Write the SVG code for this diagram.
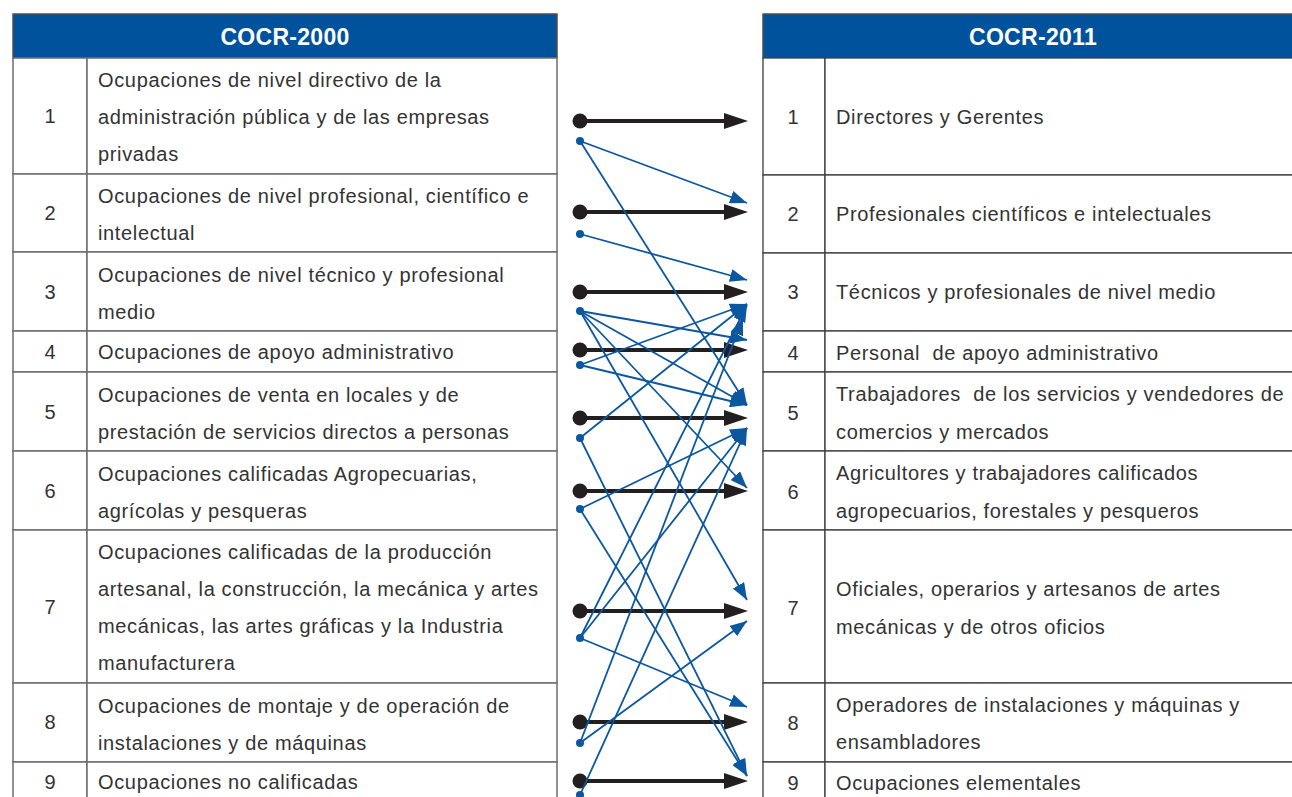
<svg xmlns="http://www.w3.org/2000/svg" width="1292" height="797" viewBox="0 0 1292 797">
<style>
.hdr{fill:#00529c;stroke:#4d4d4f;stroke-width:1.5}
.ht{font-family:"Liberation Sans",Arial,sans-serif;font-weight:bold;font-size:23px;fill:#fff;text-anchor:middle;letter-spacing:0.3px}
.cell{fill:#fff;stroke:#6d6e71;stroke-width:1.5}
.rcell{fill:#fff;stroke:#3d3d3f;stroke-width:1.3}
.t{font-family:"Liberation Sans",Arial,sans-serif;font-size:20px;fill:#333;letter-spacing:0.65px}
.n{font-family:"Liberation Sans",Arial,sans-serif;font-size:20px;fill:#333;text-anchor:middle}
.bk{stroke:#231f20;stroke-width:4;fill:none}
.bkh{fill:#231f20}
.bl{stroke:#0b57a0;stroke-width:1.8;fill:none;marker-end:url(#ah)}
.bd{fill:#0b57a0}
</style>
<defs>
<marker id="ah" markerUnits="userSpaceOnUse" markerWidth="17" markerHeight="13" refX="17" refY="6.5" orient="auto" viewBox="0 0 17 13">
<path d="M0,0 L17,6.5 L0,13 z" fill="#0b57a0"/>
</marker>
</defs>

<g id="left-table">
<g id="left-header"><rect class="hdr" x="13" y="14" width="544" height="44"/><text class="ht" x="285" y="45">COCR-2000</text></g>
<g id="l1"><rect class="cell" x="13" y="58" width="74" height="116"/><rect class="cell" x="87" y="58" width="470" height="116"/><text class="n" x="50" y="123">1</text><text class="t" x="98" y="87">Ocupaciones de nivel directivo de la</text><text class="t" x="98" y="124">administración pública y de las empresas</text><text class="t" x="98" y="161">privadas</text></g>
<g id="l2"><rect class="cell" x="13" y="174" width="74" height="78"/><rect class="cell" x="87" y="174" width="470" height="78"/><text class="n" x="50" y="220">2</text><text class="t" x="98" y="203">Ocupaciones de nivel profesional, científico e</text><text class="t" x="98" y="240">intelectual</text></g>
<g id="l3"><rect class="cell" x="13" y="252" width="74" height="79"/><rect class="cell" x="87" y="252" width="470" height="79"/><text class="n" x="50" y="299">3</text><text class="t" x="98" y="282">Ocupaciones de nivel técnico y profesional</text><text class="t" x="98" y="319">medio</text></g>
<g id="l4"><rect class="cell" x="13" y="331" width="74" height="41"/><rect class="cell" x="87" y="331" width="470" height="41"/><text class="n" x="50" y="359">4</text><text class="t" x="98" y="359">Ocupaciones de apoyo administrativo</text></g>
<g id="l5"><rect class="cell" x="13" y="372" width="74" height="79"/><rect class="cell" x="87" y="372" width="470" height="79"/><text class="n" x="50" y="419">5</text><text class="t" x="98" y="402">Ocupaciones de venta en locales y de</text><text class="t" x="98" y="439">prestación de servicios directos a personas</text></g>
<g id="l6"><rect class="cell" x="13" y="451" width="74" height="79"/><rect class="cell" x="87" y="451" width="470" height="79"/><text class="n" x="50" y="498">6</text><text class="t" x="98" y="481">Ocupaciones calificadas Agropecuarias,</text><text class="t" x="98" y="518">agrícolas y pesqueras</text></g>
<g id="l7"><rect class="cell" x="13" y="530" width="74" height="153"/><rect class="cell" x="87" y="530" width="470" height="153"/><text class="n" x="50" y="614">7</text><text class="t" x="98" y="559">Ocupaciones calificadas de la producción</text><text class="t" x="98" y="596">artesanal, la construcción, la mecánica y artes</text><text class="t" x="98" y="633">mecánicas, las artes gráficas y la Industria</text><text class="t" x="98" y="670">manufacturera</text></g>
<g id="l8"><rect class="cell" x="13" y="683" width="74" height="79"/><rect class="cell" x="87" y="683" width="470" height="79"/><text class="n" x="50" y="729">8</text><text class="t" x="98" y="713">Ocupaciones de montaje y de operación de</text><text class="t" x="98" y="750">instalaciones y de máquinas</text></g>
<g id="l9"><rect class="cell" x="13" y="762" width="74" height="50"/><rect class="cell" x="87" y="762" width="470" height="50"/><text class="n" x="50" y="789">9</text><text class="t" x="98" y="789">Ocupaciones no calificadas</text></g>
</g>

<g id="right-table">
<g id="right-header"><rect class="hdr" x="763" y="14" width="540" height="44"/><text class="ht" x="1033" y="45">COCR-2011</text></g>
<g id="r1"><rect class="rcell" x="763" y="58" width="62" height="117"/><rect class="rcell" x="825" y="58" width="480" height="117"/><text class="n" x="793" y="124">1</text><text class="t" x="836" y="124">Directores y Gerentes</text></g>
<g id="r2"><rect class="rcell" x="763" y="175" width="62" height="78"/><rect class="rcell" x="825" y="175" width="480" height="78"/><text class="n" x="793" y="221">2</text><text class="t" x="836" y="221">Profesionales científicos e intelectuales</text></g>
<g id="r3"><rect class="rcell" x="763" y="253" width="62" height="78"/><rect class="rcell" x="825" y="253" width="480" height="78"/><text class="n" x="793" y="299">3</text><text class="t" x="836" y="299">Técnicos y profesionales de nivel medio</text></g>
<g id="r4"><rect class="rcell" x="763" y="331" width="62" height="41"/><rect class="rcell" x="825" y="331" width="480" height="41"/><text class="n" x="793" y="360">4</text><text class="t" x="836" y="360" xml:space="preserve">Personal  de apoyo administrativo</text></g>
<g id="r5"><rect class="rcell" x="763" y="372" width="62" height="79"/><rect class="rcell" x="825" y="372" width="480" height="79"/><text class="n" x="793" y="420">5</text><text class="t" x="836" y="401" xml:space="preserve">Trabajadores  de los servicios y vendedores de</text><text class="t" x="836" y="439">comercios y mercados</text></g>
<g id="r6"><rect class="rcell" x="763" y="451" width="62" height="79"/><rect class="rcell" x="825" y="451" width="480" height="79"/><text class="n" x="793" y="499">6</text><text class="t" x="836" y="480">Agricultores y trabajadores calificados</text><text class="t" x="836" y="518">agropecuarios, forestales y pesqueros</text></g>
<g id="r7"><rect class="rcell" x="763" y="530" width="62" height="153"/><rect class="rcell" x="825" y="530" width="480" height="153"/><text class="n" x="793" y="615">7</text><text class="t" x="836" y="596">Oficiales, operarios y artesanos de artes</text><text class="t" x="836" y="634">mecánicas y de otros oficios</text></g>
<g id="r8"><rect class="rcell" x="763" y="683" width="62" height="79"/><rect class="rcell" x="825" y="683" width="480" height="79"/><text class="n" x="793" y="730">8</text><text class="t" x="836" y="712">Operadores de instalaciones y máquinas y</text><text class="t" x="836" y="749">ensambladores</text></g>
<g id="r9"><rect class="rcell" x="763" y="762" width="62" height="50"/><rect class="rcell" x="825" y="762" width="480" height="50"/><text class="n" x="793" y="790">9</text><text class="t" x="836" y="790">Ocupaciones elementales</text></g>
</g>

<g id="connectors">
<g id="direct">
<circle cx="580" cy="121" r="7.5" class="bkh"/><line x1="580" y1="121" x2="728" y2="121" class="bk"/><path d="M724,113 L748,121 L724,129 z" class="bkh"/>
<circle cx="580" cy="212" r="7.5" class="bkh"/><line x1="580" y1="212" x2="728" y2="212" class="bk"/><path d="M724,204 L748,212 L724,220 z" class="bkh"/>
<circle cx="580" cy="292" r="7.5" class="bkh"/><line x1="580" y1="292" x2="728" y2="292" class="bk"/><path d="M724,284 L748,292 L724,300 z" class="bkh"/>
<circle cx="580" cy="350" r="7.5" class="bkh"/><line x1="580" y1="350" x2="728" y2="350" class="bk"/><path d="M724,342 L748,350 L724,358 z" class="bkh"/>
<circle cx="580" cy="418" r="7.5" class="bkh"/><line x1="580" y1="418" x2="728" y2="418" class="bk"/><path d="M724,410 L748,418 L724,426 z" class="bkh"/>
<circle cx="580" cy="491" r="7.5" class="bkh"/><line x1="580" y1="491" x2="728" y2="491" class="bk"/><path d="M724,483 L748,491 L724,499 z" class="bkh"/>
<circle cx="580" cy="611" r="7.5" class="bkh"/><line x1="580" y1="611" x2="728" y2="611" class="bk"/><path d="M724,603 L748,611 L724,619 z" class="bkh"/>
<circle cx="580" cy="722" r="7.5" class="bkh"/><line x1="580" y1="722" x2="728" y2="722" class="bk"/><path d="M724,714 L748,722 L724,730 z" class="bkh"/>
<circle cx="580" cy="781" r="7.5" class="bkh"/><line x1="580" y1="781" x2="728" y2="781" class="bk"/><path d="M724,773 L748,781 L724,789 z" class="bkh"/>
</g>
<g id="partial">
<line x1="580" y1="141" x2="747" y2="203" class="bl"/>
<line x1="580" y1="141" x2="747" y2="405" class="bl"/>
<line x1="580" y1="234" x2="747" y2="280" class="bl"/>
<line x1="580" y1="311" x2="747" y2="340" class="bl"/>
<line x1="580" y1="311" x2="747" y2="405" class="bl"/>
<line x1="580" y1="311" x2="747" y2="488" class="bl"/>
<line x1="580" y1="311" x2="747" y2="600" class="bl"/>
<line x1="580" y1="365" x2="747" y2="304" class="bl"/>
<line x1="580" y1="365" x2="747" y2="405" class="bl"/>
<line x1="580" y1="438" x2="747" y2="304" class="bl"/>
<line x1="580" y1="438" x2="747" y2="776" class="bl"/>
<line x1="580" y1="509" x2="747" y2="428" class="bl"/>
<line x1="580" y1="509" x2="747" y2="776" class="bl"/>
<line x1="580" y1="638" x2="747" y2="305" class="bl"/>
<line x1="580" y1="638" x2="747" y2="428" class="bl"/>
<line x1="580" y1="638" x2="747" y2="707" class="bl"/>
<line x1="580" y1="743" x2="747" y2="621" class="bl"/>
<line x1="580" y1="743" x2="743" y2="318" class="bl"/>
<line x1="580" y1="795" x2="747" y2="428" class="bl"/>
<circle cx="580" cy="141" r="4" class="bd"/>
<circle cx="580" cy="234" r="4" class="bd"/>
<circle cx="580" cy="311" r="4" class="bd"/>
<circle cx="580" cy="365" r="4" class="bd"/>
<circle cx="580" cy="438" r="4" class="bd"/>
<circle cx="580" cy="509" r="4" class="bd"/>
<circle cx="580" cy="638" r="4" class="bd"/>
<circle cx="580" cy="743" r="4" class="bd"/>
<circle cx="580" cy="795" r="4" class="bd"/>
</g>
</g>
</svg>
